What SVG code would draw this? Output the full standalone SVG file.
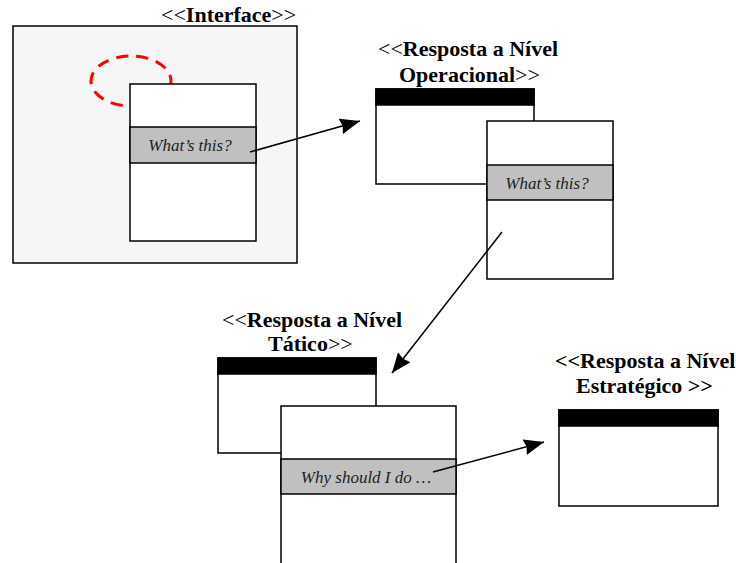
<svg xmlns="http://www.w3.org/2000/svg" width="736" height="563" viewBox="0 0 736 563">
  <style>
    .lbl { font-family: "Liberation Serif", "Times New Roman", serif; font-size: 22px; fill: #000; }
    .b { font-weight: bold; }
    .win { fill: #fff; stroke: #000; stroke-width: 1.5; }
    .hdr { fill: #000; stroke: #000; stroke-width: 1.5; }
    .band { fill: #c0c0c0; stroke: #000; stroke-width: 1.5; }
    .cap { font-family: "Liberation Serif", "Times New Roman", serif; font-size: 17px; font-style: italic; fill: #222; text-anchor: middle; }
    .conn { stroke: #000; stroke-width: 1.5; fill: none; marker-end: url(#arrow); }
  </style>
  <defs>
    <marker id="arrow" markerUnits="userSpaceOnUse" markerWidth="22" markerHeight="16" refX="20" refY="8" orient="auto">
      <path d="M0,0 L20,8 L0,16 L2,8 z" fill="#000"/>
    </marker>
  </defs>

  <!-- Interface screen with a highlighted spot and a popup -->
  <g id="interface">
    <text class="lbl" x="161" y="22">&lt;&lt;<tspan class="b">Interface</tspan>&gt;&gt;</text>
    <rect x="13" y="26" width="284" height="237" fill="#f6f6f6" stroke="#000" stroke-width="1.5"/>
    <ellipse cx="131" cy="81" rx="40" ry="25" fill="none" stroke="#ff0000" stroke-width="3" stroke-dasharray="12,8"/>
    <rect class="win" x="130" y="84" width="126" height="157"/>
    <rect class="band" x="130" y="127" width="126" height="36"/>
    <text class="cap" x="190" y="151">What’s this?</text>
  </g>

  <!-- Operational-level answer -->
  <g id="operacional">
    <text class="lbl" x="378" y="56">&lt;&lt;<tspan class="b">Resposta a Nível</tspan></text>
    <text class="lbl" x="399" y="82"><tspan class="b">Operacional</tspan>&gt;&gt;</text>
    <rect class="win" x="376" y="89" width="158" height="95"/>
    <rect class="hdr" x="376" y="89" width="158" height="16"/>
    <rect class="win" x="487" y="121" width="126" height="158"/>
    <rect class="band" x="487" y="165" width="126" height="35"/>
    <text class="cap" x="547" y="189">What’s this?</text>
  </g>

  <!-- Tactical-level answer -->
  <g id="tatico">
    <text class="lbl" x="222" y="327">&lt;&lt;<tspan class="b">Resposta a Nível</tspan></text>
    <text class="lbl" x="268" y="351"><tspan class="b">Tático</tspan>&gt;&gt;</text>
    <rect class="win" x="218" y="358" width="158" height="95"/>
    <rect class="hdr" x="218" y="358" width="158" height="16"/>
    <rect class="win" x="281" y="406" width="175" height="170"/>
    <rect class="band" x="281" y="459" width="175" height="35"/>
    <text class="cap" x="366" y="483">Why should I do …</text>
  </g>

  <!-- Strategic-level answer -->
  <g id="estrategico">
    <text class="lbl b" x="555" y="368">&lt;&lt;Resposta a Nível</text>
    <text class="lbl b" x="576" y="393">Estratégico &gt;&gt;</text>
    <rect class="win" x="559" y="410" width="159" height="96"/>
    <rect class="hdr" x="559" y="410" width="159" height="16"/>
  </g>

  <g id="connectors">
    <line class="conn" x1="250" y1="152" x2="360" y2="121"/>
    <line class="conn" x1="502" y1="232" x2="392" y2="373"/>
    <line class="conn" x1="433" y1="472" x2="544" y2="442"/>
  </g>
</svg>
